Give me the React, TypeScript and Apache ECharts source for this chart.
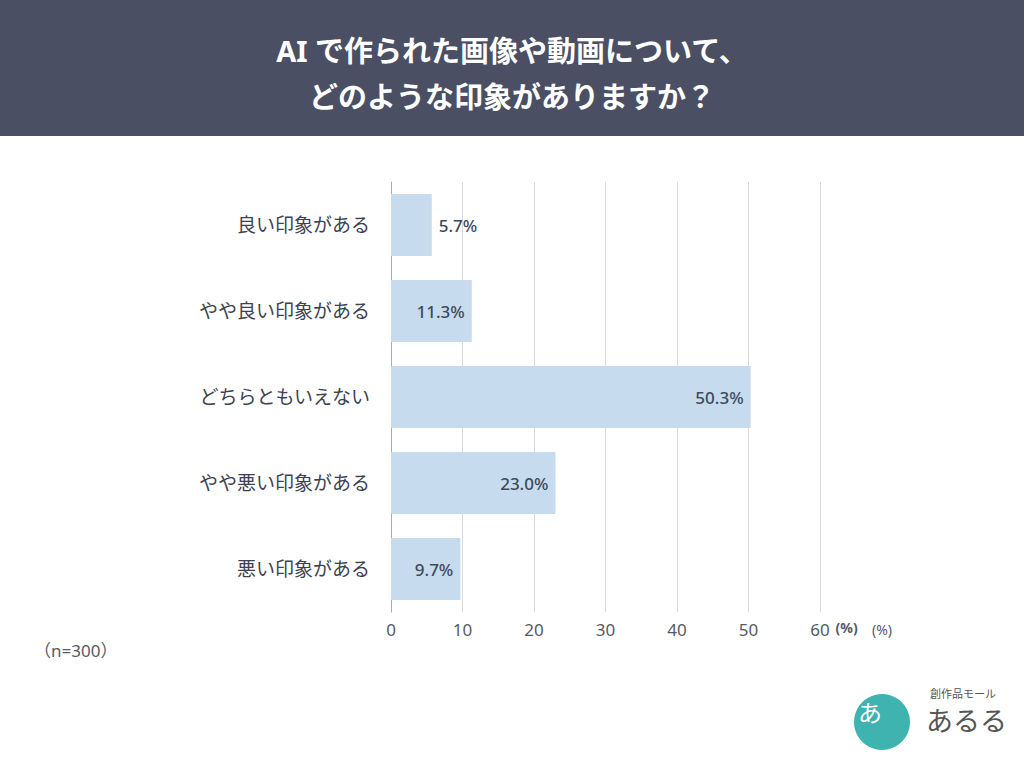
import React, { useEffect, useRef } from "react";
import * as echarts from "echarts";

const categories = ["良い印象がある", "やや良い印象がある", "どちらともいえない", "やや悪い印象がある", "悪い印象がある"];
const values = [5.7, 11.3, 50.3, 23.0, 9.7];
const labelInside = [false, true, true, true, true];
const xTicks = [0, 10, 20, 30, 40, 50, 60];
const titleLines = ["AI で作られた画像や動画について、", "どのような印象がありますか？"];
const sampleNote = "（n=300）";

const FONT = "'Noto Sans', 'Noto Sans CJK JP', sans-serif";

export default function App() {
  const ref = useRef<HTMLDivElement>(null);
  useEffect(() => {
    if (!ref.current) return;
    const chart = echarts.init(ref.current, null, { renderer: "svg" });
    chart.setOption({
      animation: false,
      backgroundColor: "#ffffff",
      textStyle: { fontFamily: FONT },
      grid: { left: 391, right: 204, top: 182, bottom: 156, containLabel: false },
      xAxis: {
        type: "value",
        min: xTicks[0],
        max: xTicks[xTicks.length - 1],
        interval: 10,
        name: "(%)",
        nameLocation: "end",
        nameGap: 6,
        nameTextStyle: { color: "#555a66", fontSize: 14, fontWeight: "bold", verticalAlign: "top", padding: [9, 0, 0, 0], fontFamily: FONT },
        axisLine: { show: false },
        axisTick: { show: false },
        axisLabel: { color: "#555a66", fontSize: 17, margin: 9, fontFamily: FONT },
        splitLine: { show: true, lineStyle: { color: "#d9d9e0", width: 1 } },
      },
      yAxis: {
        type: "category",
        inverse: true,
        data: categories,
        axisLine: { show: true, lineStyle: { color: "#aaaab2", width: 1 } },
        axisTick: { show: false },
        axisLabel: { color: "#3d4250", fontSize: 19, margin: 21, fontFamily: FONT },
      },
      series: [
        {
          type: "bar",
          barWidth: 62,
          data: values.map((v, i) => ({
            value: v,
            label: {
              show: true,
              position: labelInside[i] ? "insideRight" : "right",
              distance: 7,
              formatter: (p: any) => p.value.toFixed(1) + "%",
              color: "#3d4a5c",
              fontSize: 17,
              fontWeight: 500,
              fontFamily: FONT,
            },
          })),
          itemStyle: { color: "#c6dcee" },
        },
      ],
      graphic: [
        { type: "rect", left: 0, top: 0, shape: { width: 1024, height: 136 }, style: { fill: "#4b4f63" }, z: 0 },
        {
          type: "text",
          x: 512,
          y: 50,
          style: { text: titleLines[0], fill: "#ffffff", fontSize: 29, fontWeight: "bold", fontFamily: FONT, align: "center", verticalAlign: "middle" },
        },
        {
          type: "text",
          x: 512,
          y: 96,
          style: { text: titleLines[1], fill: "#ffffff", fontSize: 29, fontWeight: "bold", fontFamily: FONT, align: "center", verticalAlign: "middle" },
        },
        {
          type: "text",
          x: 872,
          y: 629,
          style: { text: "(%)", fill: "#555a66", fontSize: 14, fontFamily: FONT, verticalAlign: "middle" },
        },
        {
          type: "text",
          x: 34,
          y: 650,
          style: { text: sampleNote, fill: "#555a66", fontSize: 17, fontFamily: FONT, verticalAlign: "middle" },
        },
        { type: "circle", shape: { cx: 882, cy: 722, r: 28 }, style: { fill: "#3fb3b0" } },
        {
          type: "text",
          x: 858,
          y: 712,
          style: { text: "あ", fill: "#ffffff", fontSize: 24, fontFamily: FONT, verticalAlign: "middle" },
        },
        {
          type: "text",
          x: 930,
          y: 693,
          style: { text: "創作品モール", fill: "#555", fontSize: 11, fontFamily: FONT, verticalAlign: "middle" },
        },
        {
          type: "text",
          x: 926,
          y: 720,
          style: { text: "あるる", fill: "#555", fontSize: 27, fontFamily: FONT, verticalAlign: "middle" },
        },
      ],
    });
    return () => chart.dispose();
  }, []);
  return <div ref={ref} style={{ width: 1024, height: 768, position: "absolute", left: 0, top: 0 }} />;
}
